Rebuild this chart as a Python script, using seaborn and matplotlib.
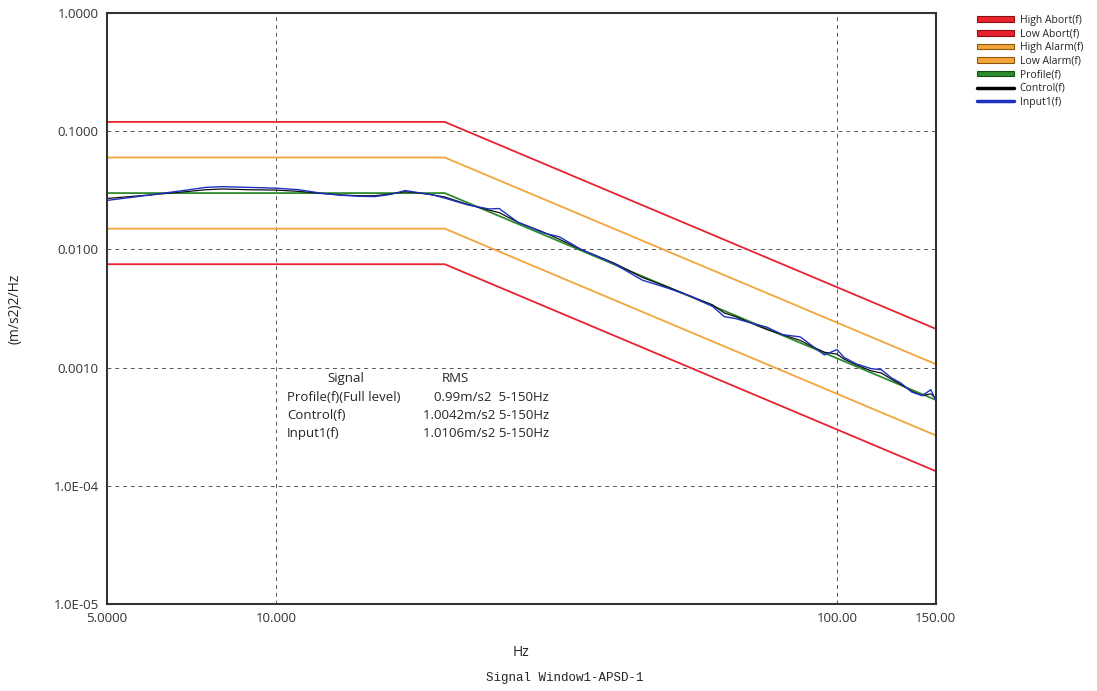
import matplotlib
matplotlib.use("Agg")
import matplotlib.pyplot as plt
from matplotlib.lines import Line2D
from matplotlib.patches import Patch
from matplotlib.ticker import FixedLocator, NullLocator
import seaborn as sns
import numpy as np
import pandas as pd

# profile breakpoints (Hz, (m/s2)2/Hz)
prof_freq = [5, 20, 150]
prof_psd = [0.03, 0.03, 0.000533]
high_abort = [0.12, 0.12, 0.00213]
low_abort = [0.0075, 0.0075, 0.000133]
high_alarm = [0.06, 0.06, 0.00107]
low_alarm = [0.015, 0.015, 0.000267]

input_freq = [5, 6, 7, 7.5, 8, 9, 10, 11, 12, 13, 14, 15, 16, 17, 18, 19, 20,
              22, 24, 25, 27, 30, 32, 35, 40, 45, 50, 55, 60, 63, 66, 70, 75,
              80, 86, 90, 95, 100, 103, 108, 115, 120, 125, 130, 136, 142, 147, 150]
input_psd = [0.026, 0.029, 0.032, 0.0335, 0.034, 0.0335, 0.033, 0.032, 0.030,
             0.0288, 0.0282, 0.028, 0.0292, 0.0315, 0.0302, 0.0290, 0.0272,
             0.0238, 0.0220, 0.0222, 0.0170, 0.0138, 0.0128, 0.0100, 0.0076,
             0.0055, 0.0047, 0.0040, 0.0033, 0.0027, 0.0026, 0.0024, 0.0022,
             0.0019, 0.00182, 0.00155, 0.00128, 0.00142, 0.00122, 0.00108,
             0.00098, 0.00096, 0.00082, 0.00074, 0.00062, 0.00058, 0.00065, 0.00053]
control_psd = [0.027, 0.029, 0.031, 0.032, 0.0325, 0.032, 0.0318, 0.031, 0.0298,
               0.0290, 0.0285, 0.0285, 0.0295, 0.0308, 0.0300, 0.0290, 0.0278,
               0.0240, 0.0215, 0.0205, 0.0170, 0.0140, 0.0122, 0.0100, 0.0077,
               0.0058, 0.0048, 0.0040, 0.0034, 0.0029, 0.0027, 0.0024, 0.0021,
               0.0019, 0.00170, 0.00152, 0.00135, 0.00130, 0.00118, 0.00106,
               0.00094, 0.00090, 0.00080, 0.00072, 0.00063, 0.00058, 0.00060, 0.00055]

x_ticks = [5, 10, 100, 150]
x_tick_labels = ["5.0000", "10.000", "100.00", "150.00"]
y_ticks = [1, 0.1, 0.01, 0.001, 1e-4, 1e-5]
y_tick_labels = ["1.0000", "0.1000", "0.0100", "0.0010", "1.0E-04", "1.0E-05"]

rms_rows = [("Profile(f)(Full level)", "0.99m/s2  5-150Hz"),
            ("Control(f)", "1.0042m/s2 5-150Hz"),
            ("Input1(f)", "1.0106m/s2 5-150Hz")]

RED = "#e8232f"
ORANGE = "#f2a53a"
GREEN = "#2e8b2e"
BLUE = "#1f2fbf"

sns.set_style("white")
plt.rcParams['font.family'] = ['Open Sans', 'DejaVu Sans']

fig = plt.figure(figsize=(10.97, 6.91), dpi=100)
ax = fig.add_axes([0.0975, 0.126, 0.7555, 0.855])

limits = pd.DataFrame({"freq": prof_freq, "High Abort(f)": high_abort,
                       "Low Abort(f)": low_abort, "High Alarm(f)": high_alarm,
                       "Low Alarm(f)": low_alarm, "Profile(f)": prof_psd})
for name, color in [("High Abort(f)", RED), ("Low Abort(f)", RED),
                    ("High Alarm(f)", ORANGE), ("Low Alarm(f)", ORANGE),
                    ("Profile(f)", GREEN)]:
    sns.lineplot(data=limits, x="freq", y=name, ax=ax, color=color, lw=1.3)

meas = pd.DataFrame({"freq": input_freq, "control": control_psd, "input": input_psd})
sns.lineplot(data=meas, x="freq", y="control", ax=ax, color="#111111", lw=0.9)
sns.lineplot(data=meas, x="freq", y="input", ax=ax, color=BLUE, lw=1.0)

ax.set_xscale("log")
ax.set_yscale("log")
ax.set_xlim(5, 150)
ax.set_ylim(1e-5, 1)
ax.xaxis.set_major_locator(FixedLocator(x_ticks))
ax.xaxis.set_minor_locator(NullLocator())
ax.set_xticklabels(x_tick_labels)
ax.yaxis.set_major_locator(FixedLocator(y_ticks))
ax.yaxis.set_minor_locator(NullLocator())
ax.set_yticklabels(y_tick_labels)
ax.tick_params(axis="both", length=0, labelsize=9.5, labelcolor="#333333", pad=6)

# grid only at interior decades
for xv in [10, 100]:
    ax.axvline(xv, color="#555555", ls=(0, (4, 4)), lw=0.7, zorder=0)
for yv in [0.1, 0.01, 0.001, 1e-4]:
    ax.axhline(yv, color="#555555", ls=(0, (4, 4)), lw=0.7, zorder=0)

for s in ax.spines.values():
    s.set_color("#333333")
    s.set_linewidth(1.5)

ax.set_xlabel("Hz", fontsize=10, labelpad=14)
ax.set_ylabel("(m/s2)2/Hz", fontsize=10, labelpad=22)

# RMS table
ax.text(0.288, 0.381, "Signal", transform=ax.transAxes, fontsize=9.5,
        ha="center", va="center")
ax.text(0.420, 0.381, "RMS", transform=ax.transAxes, fontsize=9.5,
        ha="center", va="center")
for i, (sig, val) in enumerate(rms_rows):
    yy = 0.349 - i * 0.030
    ax.text(0.217, yy, sig, transform=ax.transAxes, fontsize=9.5, va="center")
    ax.text(0.533, yy, val, transform=ax.transAxes, fontsize=9.5,
            ha="right", va="center")

handles = [Patch(facecolor=RED, edgecolor="#8a1010", lw=0.8),
           Patch(facecolor=RED, edgecolor="#8a1010", lw=0.8),
           Patch(facecolor=ORANGE, edgecolor="#8a5a10", lw=0.8),
           Patch(facecolor=ORANGE, edgecolor="#8a5a10", lw=0.8),
           Patch(facecolor=GREEN, edgecolor="#145014", lw=0.8),
           Line2D([], [], color="black", lw=2.5),
           Line2D([], [], color=BLUE, lw=2.5)]
labels = ["High Abort(f)", "Low Abort(f)", "High Alarm(f)", "Low Alarm(f)",
          "Profile(f)", "Control(f)", "Input1(f)"]
fig.legend(handles, labels, loc="upper left", bbox_to_anchor=(0.882, 0.992),
           frameon=False, fontsize=7.5, handlelength=3.6, handleheight=0.45,
           labelspacing=0.25, handletextpad=0.5)

fig.text(0.515, 0.015, "Signal Window1-APSD-1", ha="center",
         family="Liberation Mono", fontsize=9)

fig.savefig("out.png", dpi=100)
